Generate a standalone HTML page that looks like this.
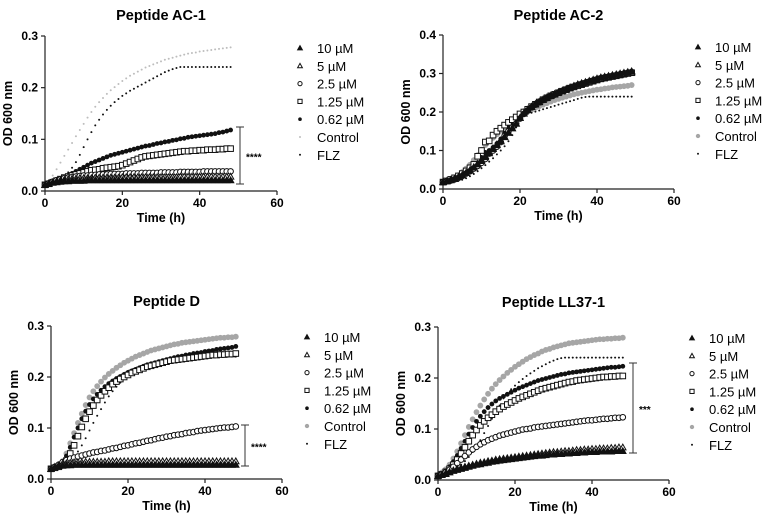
<!DOCTYPE html>
<html><head><meta charset="utf-8"><style>
html,body{margin:0;padding:0;background:#fff;}
svg{display:block;font-family:"Liberation Sans",Arial,sans-serif;}
</style></head><body>
<svg id="fig" width="764" height="524" viewBox="0 0 764 524" xmlns="http://www.w3.org/2000/svg"></svg>
<script>
// ---- data (OD600 x1000, hourly) ----
const legendLabels = ["10 µM","5 µM","2.5 µM","1.25 µM","0.62 µM","Control","FLZ"];
const xTicks = [0,20,40,60];
const yTicks03 = ["0.0","0.1","0.2","0.3"];
const yTicks04 = ["0.0","0.1","0.2","0.3","0.4"];

const ac1_c10 = [12,14,16,17,18,19,19,20,20,20,20,21,21,21,21,21,21,21,21,21,21,21,21,21,21,21,21,21,21,21,21,21,21,21,21,21,21,21,21,21,21,21,21,21,21,21,21,21,21];
const ac1_c5 = [12,15,17,19,21,22,23,24,24,25,25,25,25,26,26,26,26,26,26,26,27,27,27,27,27,27,27,27,27,27,27,27,27,27,27,28,28,28,28,28,28,28,28,28,28,28,28,28,28];
const ac1_c25 = [12,15,18,21,23,25,26,27,28,29,30,30,31,31,32,32,32,33,33,33,33,34,34,34,34,35,35,35,35,35,36,36,36,36,36,37,37,37,37,37,37,38,38,38,38,38,38,38,38];
const ac1_c125 = [12,14,17,20,23,26,28,30,32,34,36,38,40,41,42,44,45,46,47,48,50,53,56,59,62,65,67,68,69,70,71,72,73,74,75,76,77,77,78,78,79,79,80,80,80,81,81,82,82];
const ac1_c062 = [12,15,18,21,24,27,30,34,38,42,46,50,54,57,60,63,66,69,71,73,75,77,79,81,83,85,87,88,90,92,93,95,96,98,99,101,102,104,105,106,107,108,109,110,111,113,114,116,118];
const ac1_ctrl = [12,20,30,42,55,68,80,93,106,118,130,142,153,163,172,180,188,195,201,207,213,218,223,227,231,235,239,242,245,248,251,254,256,258,260,262,264,266,267,268,270,271,272,273,274,275,276,277,278];
const ac1_flz = [12,14,17,20,24,29,36,45,56,70,85,100,114,127,138,148,157,165,172,178,184,189,194,198,202,206,210,214,218,222,226,230,233,236,238,240,240,240,240,240,240,240,240,240,240,240,240,240,240];

const ac2_c10 = [18,20,23,26,31,36,42,48,56,64,73,83,93,104,114,124,135,146,158,170,185,197,206,214,221,227,233,238,243,247,252,256,260,264,268,272,275,278,281,284,287,290,292,294,296,298,300,302,304,306];
const ac2_c5 = [18,21,24,27,31,36,42,49,57,66,76,86,96,106,116,126,136,147,158,170,185,196,205,213,220,226,232,237,242,246,251,255,259,263,267,270,273,276,279,282,285,287,289,291,293,295,297,299,301,303];
const ac2_c25 = [18,20,22,25,29,34,40,46,53,60,68,78,92,100,110,122,138,150,160,170,183,195,204,212,219,225,231,236,241,245,250,254,258,262,266,270,273,276,279,282,285,288,290,292,294,296,298,300,302,304];
const ac2_c125 = [18,21,25,29,34,40,47,55,64,85,100,122,125,140,150,158,166,173,180,187,195,200,207,214,220,226,232,237,242,246,250,254,258,262,265,268,271,274,277,280,283,286,288,290,292,294,296,298,300,302];
const ac2_c062 = [18,20,23,27,32,38,45,52,58,68,82,95,100,108,118,130,145,160,172,182,195,203,210,216,222,228,234,239,244,248,252,256,260,264,268,271,274,277,280,283,286,288,290,292,294,296,298,300,302,304];
const ac2_ctrl = [18,21,25,30,36,44,53,63,75,88,102,114,124,133,142,151,160,168,176,183,190,196,201,206,211,215,219,223,227,231,234,237,240,243,246,248,250,252,254,256,258,259,261,262,264,265,266,267,268,270];
const ac2_flz = [15,16,17,19,21,24,28,33,39,46,54,62,71,80,90,100,111,124,140,160,185,192,195,198,201,204,207,210,213,216,219,222,225,228,231,234,237,239,240,240,240,240,240,240,240,240,240,240,240,240];

const d_c10 = [20,23,25,26,27,27,28,28,28,28,28,28,28,28,28,28,28,28,28,28,28,28,28,28,28,28,28,28,28,28,28,28,28,28,28,28,28,28,28,28,28,28,28,28,28,28,28,28,28];
const d_c5 = [20,24,27,30,31,32,33,33,33,34,34,34,34,34,34,35,35,35,35,35,35,35,35,35,35,35,35,35,35,35,35,35,35,35,35,35,35,35,35,35,35,35,35,35,35,35,35,35,35];
const d_c25 = [20,24,28,33,37,40,42,44,46,48,50,52,53,55,56,58,60,61,63,65,66,68,70,71,73,75,76,78,80,81,83,84,86,87,88,90,91,92,94,95,96,97,98,99,100,101,101,102,103];
const d_c125 = [20,22,24,28,36,50,66,84,102,118,132,144,155,164,172,179,186,191,196,200,204,208,211,214,217,220,222,224,226,228,230,232,233,234,235,236,237,238,239,240,241,242,243,243,244,244,245,245,246];
const d_c062 = [20,22,24,32,45,62,82,100,118,133,146,157,166,174,181,187,192,197,201,205,209,212,215,218,221,224,226,228,230,232,234,236,238,240,241,243,244,246,247,248,250,251,252,254,255,256,257,258,260];
const d_ctrl = [20,22,25,35,50,70,90,110,128,145,160,172,182,191,199,206,212,218,223,228,232,236,240,243,246,249,252,254,256,258,260,262,264,265,267,268,269,270,271,272,273,274,275,276,277,277,278,278,279];
const d_flz = [20,22,24,26,30,36,44,54,66,80,95,110,124,137,150,162,172,181,189,196,202,208,213,217,221,224,227,229,232,234,236,238,239,240,240,240,240,240,240,240,240,240,240,240,240,240,240,240,240];

const ll_c10 = [8,10,12,15,18,20,22,24,26,28,30,31,33,34,36,37,38,39,40,41,42,43,44,45,46,47,48,48,49,50,50,51,51,52,52,53,53,54,54,55,55,55,56,56,56,56,57,57,57];
const ll_c5 = [8,10,13,16,19,22,24,26,28,30,32,34,35,37,38,40,41,42,43,44,45,46,47,48,49,50,51,52,53,54,55,55,56,57,57,58,59,59,60,60,61,61,62,62,62,63,63,64,64];
const ll_c25 = [8,11,15,20,26,33,40,47,54,60,65,70,74,78,81,84,87,89,91,93,95,97,99,100,101,103,104,105,106,107,108,109,110,111,112,113,114,115,116,117,117,118,119,120,120,121,122,122,123];
const ll_c125 = [8,11,16,22,30,40,52,64,76,88,98,107,115,122,128,134,139,144,148,152,156,160,163,166,169,172,175,178,180,182,184,186,188,190,192,193,195,196,197,198,199,200,201,202,202,203,203,204,204];
const ll_c062 = [8,12,18,26,36,48,62,76,90,103,115,125,134,142,149,155,160,164,168,172,176,180,183,186,189,192,195,197,199,201,203,205,207,208,210,211,212,213,214,215,216,217,218,219,220,221,221,222,223];
const ll_ctrl = [10,15,21,30,42,56,72,88,104,119,133,146,158,169,179,188,196,203,210,216,222,227,232,237,241,245,248,252,255,257,260,262,264,266,268,269,270,271,272,273,274,275,276,276,277,277,278,278,279];
const ll_flz = [8,10,12,15,19,24,30,37,45,55,66,78,92,106,120,133,146,160,170,178,185,192,198,204,209,214,219,223,227,231,234,237,239,240,240,240,240,240,240,240,240,240,240,240,240,240,240,240,240];

const sigAC1 = "****", sigD = "****", sigLL = "***";

// ---- drawing ----
const NS="http://www.w3.org/2000/svg";
const svg=document.getElementById('fig');
function mk(tag,attrs,parent){const e=document.createElementNS(NS,tag);for(const k in attrs)e.setAttribute(k,attrs[k]);(parent||svg).appendChild(e);return e;}

function marker(g,type,cx,cy,sc){
  sc=sc||1;
  let e;
  if(type===0||type===1){
    const s=3.2*sc;
    e=mk('polygon',{points:`${cx},${cy-s} ${cx-s},${cy+s*0.8} ${cx+s},${cy+s*0.8}`,fill:type===0?'#111':'#fff',stroke:'#111','stroke-width':1},g);
  } else if(type===2){
    e=mk('circle',{cx,cy,r:2.8*sc,fill:'#fff',stroke:'#111','stroke-width':1},g);
  } else if(type===3){
    const h=2.8*sc;
    e=mk('rect',{x:cx-h,y:cy-h,width:2*h,height:2*h,fill:'#fff',stroke:'#111','stroke-width':1},g);
  } else if(type===4){
    e=mk('circle',{cx,cy,r:2.4*sc,fill:'#111'},g);
  } else if(type===5){
    e=mk('circle',{cx,cy,r:2.9*sc,fill:'#a6a6a6'},g);
  } else if(type===55){
    e=mk('circle',{cx,cy,r:1.0,fill:'#bdbdbd'},g);
  } else {
    e=mk('circle',{cx,cy,r:1.0,fill:'#111'},g);
  }
  return e;
}

function panel(cfg){
  const g=mk('g',{});
  
  
  const xs=v=>cfg.x0+(cfg.x1-cfg.x0)*v/60;
  const ys=v=>cfg.y0-(cfg.y0-cfg.y1)*v/cfg.ymax;
  const t=mk('text',{x:(cfg.x0+cfg.x1)/2,y:cfg.ty,'text-anchor':'middle','font-size':14.5,'font-weight':'bold'},g);
  t.textContent=cfg.title;
  
  
  const ax=mk('path',{d:`M${cfg.x0},${cfg.y1} V${cfg.y0} H${cfg.x1}`,fill:'none',stroke:'#222','stroke-width':1.2},g);
  
  
  cfg.yt.forEach((lab,i)=>{
    const yy=ys(i*0.1);
    mk('line',{x1:cfg.x0-4,x2:cfg.x0,y1:yy,y2:yy,stroke:'#222','stroke-width':1.2},g);
    const tl=mk('text',{x:cfg.x0-7,y:yy+4,'text-anchor':'end','font-size':12,'font-weight':'bold'},g);
    tl.textContent=lab;
    
    
  });
  xTicks.forEach(v=>{
    const xx=xs(v);
    mk('line',{x1:xx,x2:xx,y1:cfg.y0,y2:cfg.y0+4,stroke:'#222','stroke-width':1.2},g);
    const tl=mk('text',{x:xx,y:cfg.y0+16,'text-anchor':'middle','font-size':12,'font-weight':'bold'},g);
    tl.textContent=v;
    
    
  });
  const xt=mk('text',{x:(cfg.x0+cfg.x1)/2,y:cfg.y0+31,'text-anchor':'middle','font-size':12.5,'font-weight':'bold'},g);
  xt.textContent='Time (h)';
  
  
  const ymid=(cfg.y0+cfg.y1)/2;
  const yt=mk('text',{x:cfg.x0-33,y:ymid,'text-anchor':'middle','font-size':12.5,'font-weight':'bold',transform:`rotate(-90 ${cfg.x0-33} ${ymid})`},g);
  yt.textContent='OD 600 nm';
  
  
  const order=[5,6,4,3,2,1,0];
  order.forEach(si=>{
    const arr=cfg.series[si];
    const sg=mk('g',{},g);
    
    
    const type=(si===5&&cfg.lightCtrl)?55:si;
    arr.forEach((v,i)=>{
      marker(sg,type,xs(i),ys(v/1000));
    });
  });
  const lg=mk('g',{},g);
  
  
  legendLabels.forEach((lab,i)=>{
    const yy=cfg.ly+i*17.8;
    const type=(i===5&&cfg.lightCtrl)?55:i;
    marker(lg,type,cfg.lx,yy,0.75);
    const lt=mk('text',{x:cfg.lx+17,y:yy+5,'font-size':13},lg);
    lt.textContent=lab;
    
    
  });
  if(cfg.sig){
    const b=mk('path',{d:`M${cfg.bx-4},${cfg.by1} H${cfg.bx+4} M${cfg.bx},${cfg.by1} V${cfg.by2} M${cfg.bx-4},${cfg.by2} H${cfg.bx+4}`,stroke:'#333','stroke-width':1,fill:'none'},g);
    
    
    const st=mk('text',{x:cfg.bx+6,y:(cfg.by1+cfg.by2)/2+5,'font-size':10,'font-weight':'bold'},g);
    st.textContent=cfg.sig;
    
    
  }
}

panel({name:'panel-ac1',title:'Peptide AC-1',ty:20,x0:45,x1:277,y0:191,y1:36,ymax:0.3,yt:yTicks03,
  series:[ac1_c10,ac1_c5,ac1_c25,ac1_c125,ac1_c062,ac1_ctrl,ac1_flz],lightCtrl:true,
  lx:300,ly:48,sig:sigAC1,bx:240,by1:127,by2:184});
panel({name:'panel-ac2',title:'Peptide AC-2',ty:20,x0:443,x1:674,y0:189,y1:35,ymax:0.4,yt:yTicks04,
  series:[ac2_c10,ac2_c5,ac2_c25,ac2_c125,ac2_c062,ac2_ctrl,ac2_flz],
  lx:698,ly:47});
panel({name:'panel-d',title:'Peptide D',ty:306,x0:51,x1:282,y0:479,y1:326,ymax:0.3,yt:yTicks03,
  series:[d_c10,d_c5,d_c25,d_c125,d_c062,d_ctrl,d_flz],
  lx:307,ly:337,sig:sigD,bx:245,by1:425,by2:466});
panel({name:'panel-ll37',title:'Peptide LL37-1',ty:307,x0:438,x1:669,y0:480,y1:327,ymax:0.3,yt:yTicks03,
  series:[ll_c10,ll_c5,ll_c25,ll_c125,ll_c062,ll_ctrl,ll_flz],
  lx:692,ly:338,sig:sigLL,bx:633,by1:363,by2:453});
</script>
</body></html>
